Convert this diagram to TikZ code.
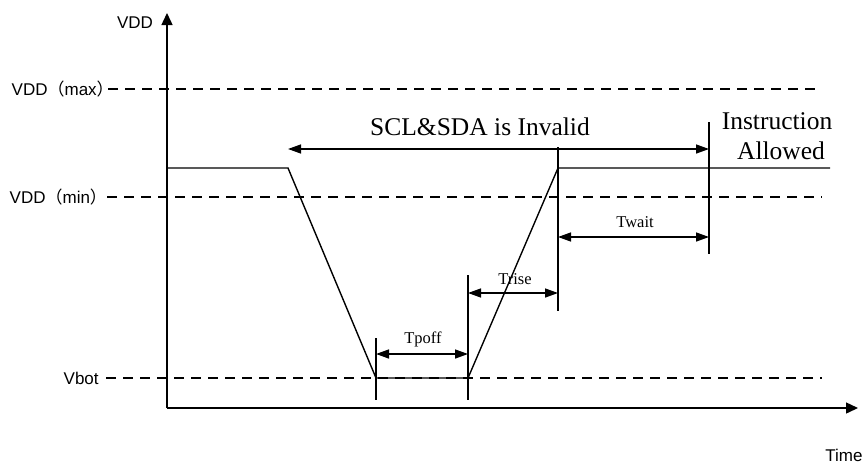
\documentclass[tikz,border=0pt]{standalone}
\usepackage{fontspec}
\setmainfont{Liberation Serif}
\setsansfont{Liberation Sans}
\newfontfamily\cjk{Noto Sans CJK SC}
\usetikzlibrary{arrows.meta}
\begin{document}
\begin{tikzpicture}[x=1pt,y=-1pt, line width=1.4pt,
  axisarrow/.style={-{Triangle[length=12pt,width=11pt]}},
  dimarrow/.style={{Triangle[length=13pt,width=9pt]}-{Triangle[length=13pt,width=9pt]}},
  lvl/.style={dash pattern=on 10pt off 7pt},
  sanslabel/.style={font=\sffamily\fontsize{17}{19}\selectfont, inner sep=0pt},
  smalllabel/.style={font=\fontsize{16.5}{18}\selectfont, inner sep=0pt},
  biglabel/.style={font=\fontsize{25.5}{28}\selectfont, inner sep=0pt}]
\useasboundingbox (0,0) rectangle (866,464);

% axes
\coordinate (O) at (167,408);
\coordinate (ytop) at (167,13);
\coordinate (xend) at (858,408);
\draw[axisarrow] (O) -- (ytop);
\draw[axisarrow] (O) -- (xend);
\node[sanslabel] (vdd) at (135,23) {VDD};
\node[sanslabel] (time) at (844,455) {Time};

% levels
\node[sanslabel, anchor=west] (lmax) at (11,89) {VDD{\cjk （}max{\cjk ）}};
\node[sanslabel, anchor=west] (lmin) at (9,197) {VDD{\cjk （}min{\cjk ）}};
\node[sanslabel, anchor=west] (lbot) at (63,378) {Vbot};
\coordinate (dmax0) at (108,89);  \coordinate (dmax1) at (822,89);
\coordinate (dmin0) at (107,197); \coordinate (dmin1) at (822,197);
\coordinate (dbot0) at (106,378); \coordinate (dbot1) at (822,378);
\draw[lvl] (dmax0) -- (dmax1);
\draw[lvl] (dmin0) -- (dmin1);
\draw[lvl] (dbot0) -- (dbot1);

% signal
\coordinate (s0) at (167,168);
\coordinate (s1) at (288,168);
\coordinate (s2) at (376,378);
\coordinate (s3) at (468,378);
\coordinate (s4) at (558,168);
\coordinate (s5) at (830,168);
\draw (s0) -- (s1) -- (s2) -- (s3) -- (s4) -- (s5);

% markers
\coordinate (m1t) at (376,338); \coordinate (m1b) at (376,400);
\coordinate (m2t) at (468,275); \coordinate (m2b) at (468,400);
\coordinate (m3t) at (558,147); \coordinate (m3b) at (558,311);
\coordinate (m4t) at (709,122); \coordinate (m4b) at (709,254);
\draw (m1t) -- (m1b);
\draw (m2t) -- (m2b);
\draw (m3t) -- (m3b);
\draw (m4t) -- (m4b);

% dimension arrows
\coordinate (tp0) at (376,354); \coordinate (tp1) at (468,354);
\coordinate (tr0) at (468,293); \coordinate (tr1) at (558,293);
\coordinate (tw0) at (558,237); \coordinate (tw1) at (709,237);
\coordinate (sc0) at (288,149); \coordinate (sc1) at (709,149);
\draw[dimarrow] (tp0) -- (tp1);
\draw[dimarrow] (tr0) -- (tr1);
\draw[dimarrow] (tw0) -- (tw1);
\draw[dimarrow] (sc0) -- (sc1);

\node[smalllabel] (tpoff) at (423,339) {Tpoff};
\node[smalllabel] (trise) at (515,279) {Trise};
\node[smalllabel] (twait) at (635,222) {Twait};
\node[biglabel] (invalid) at (480,127) {SCL\&SDA is Invalid};
\node[biglabel] (instr) at (777,121) {Instruction};
\node[biglabel] (allowed) at (781,151) {Allowed};
\end{tikzpicture}
\end{document}
